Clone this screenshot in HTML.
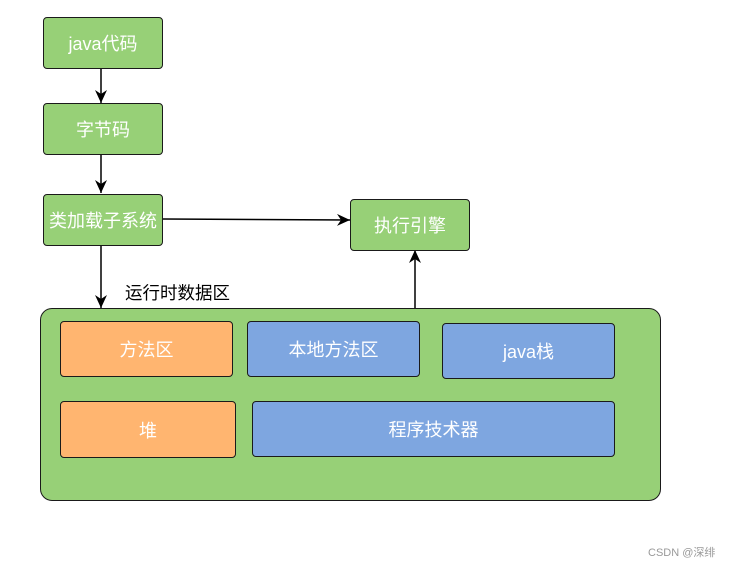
<!DOCTYPE html>
<html><head><meta charset="utf-8"><style>
body{margin:0;background:#fff;}
.b{position:absolute;box-sizing:border-box;border:1.5px solid #1a1a1a;border-radius:4px;color:#fff;font:18px "Liberation Sans","Noto Sans CJK SC",sans-serif;display:flex;align-items:center;justify-content:center;}
.g{background:#97D077}.o{background:#FFB570}.u{background:#7EA6E0}
</style></head><body>
<div style="position:relative;width:731px;height:567px;overflow:hidden">
<svg width="731" height="567" style="position:absolute;left:0;top:0">
<defs><marker id="a" markerWidth="14" markerHeight="14" refX="13" refY="6" orient="auto" markerUnits="userSpaceOnUse"><path d="M0,0 L13,6 L0,12 L4,6 z" fill="#000"/></marker></defs>
<g stroke="#000" stroke-width="1.5" fill="none">
<line x1="101" y1="68" x2="101" y2="103" marker-end="url(#a)"/>
<line x1="101" y1="155" x2="101" y2="193" marker-end="url(#a)"/>
<line x1="101" y1="245" x2="101" y2="308" marker-end="url(#a)"/>
<line x1="163" y1="219" x2="350" y2="220" marker-end="url(#a)"/>
<line x1="415" y1="308" x2="415" y2="250" marker-end="url(#a)"/>
</g></svg>
<div class="b g" style="left:43px;top:17px;width:120px;height:52px">java代码</div>
<div class="b g" style="left:43px;top:103px;width:120px;height:52px">字节码</div>
<div class="b g" style="left:43px;top:194px;width:120px;height:52px">类加载子系统</div>
<div class="b g" style="left:350px;top:199px;width:120px;height:52px">执行引擎</div>
<div style="position:absolute;left:125px;top:280px;font:17.5px 'Liberation Sans','Noto Sans CJK SC',sans-serif;color:#000">运行时数据区</div>
<div class="b g" style="left:40px;top:308px;width:621px;height:193px;border-radius:12px"></div>
<div class="b o" style="left:60px;top:321px;width:173px;height:56px">方法区</div>
<div class="b u" style="left:247px;top:321px;width:173px;height:56px">本地方法区</div>
<div class="b u" style="left:442px;top:323px;width:173px;height:56px">java栈</div>
<div class="b o" style="left:60px;top:401px;width:176px;height:57px">堆</div>
<div class="b u" style="left:252px;top:401px;width:363px;height:56px">程序技术器</div>
<div style="position:absolute;left:648px;top:544px;font:11px 'Liberation Sans','Noto Sans CJK SC',sans-serif;color:#999">CSDN @深绯</div>
</div></body></html>
